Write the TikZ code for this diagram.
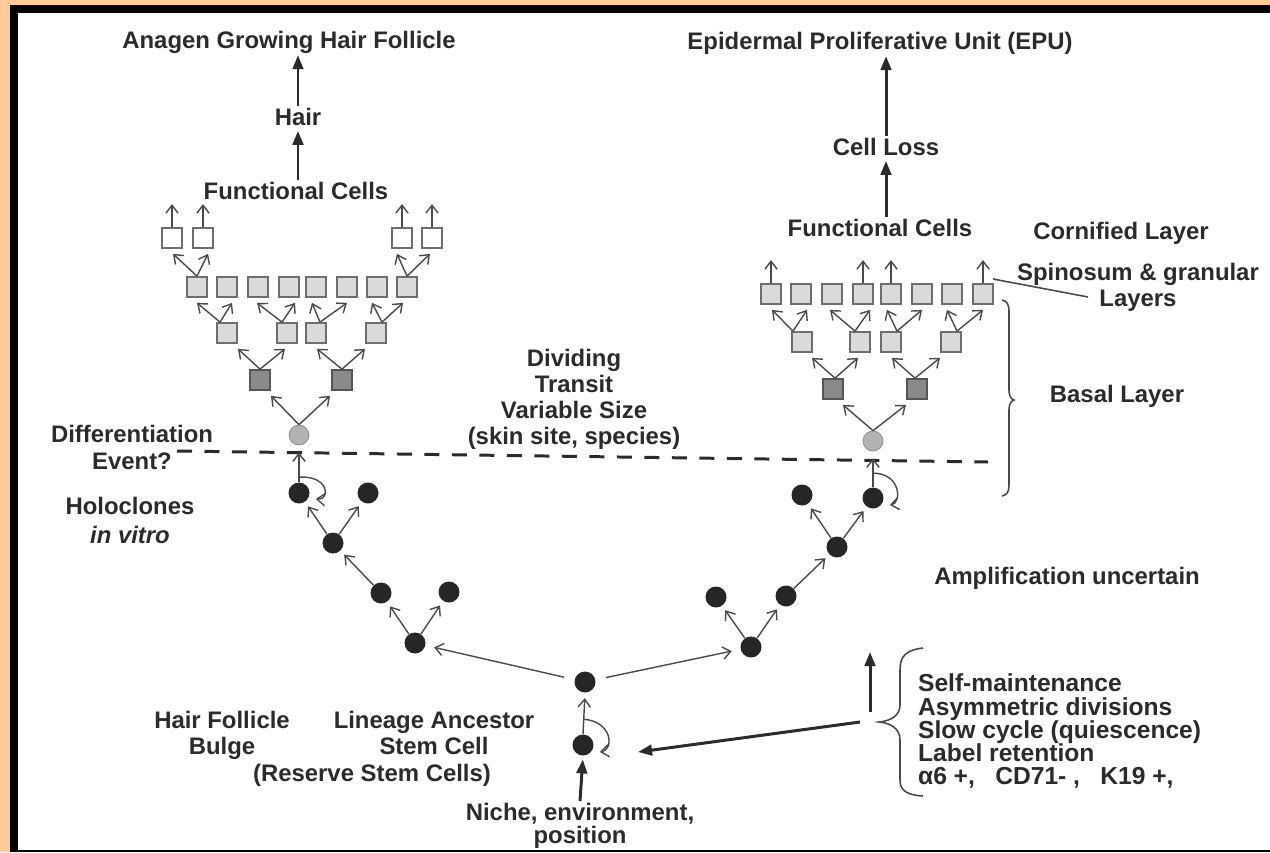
\documentclass[tikz,border=0pt]{standalone}
\usepackage{fontspec}
\setmainfont{Liberation Sans}
\usetikzlibrary{arrows.meta,calc}
\definecolor{peach}{HTML}{FFCA95}
\definecolor{txt}{HTML}{2B2B2B}
\definecolor{ln}{HTML}{4A4A4A}
\definecolor{sqb}{HTML}{6E6E6E}
\definecolor{sqf}{HTML}{DADADA}
\definecolor{sqdk}{HTML}{8A8A8A}
\definecolor{sqdb}{HTML}{555555}
\definecolor{cgf}{HTML}{B2B2B2}
\definecolor{cgb}{HTML}{8A8A8A}
\definecolor{cbf}{HTML}{262626}
\newcommand\vfork[6]{%
  \draw[thinarr] ($(#1.north)+(#4,0)$) -- ($(#2.south)+(#5,5)$);
  \draw[thinarr] ($(#1.north)+(#4,0)$) -- ($(#3.south)+(#6,5)$);}
\newcommand\uparr[1]{\draw[thinarr] (#1.north) -- ++(0,-23);}
\begin{document}
\begin{tikzpicture}[x=0.02cm,y=-0.02cm,
  sqw/.style={draw=sqb, fill=white, minimum size=0.4cm, inner sep=0pt, line width=1pt},
  sqg/.style={sqw, fill=sqf},
  sqdark/.style={sqw, fill=sqdk, draw=sqdb},
  cg/.style={circle, fill=cgf, draw=cgb, minimum size=0.4cm, inner sep=0pt},
  cb/.style={circle, fill=cbf, minimum size=0.42cm, inner sep=0pt},
  thinarr/.style={draw=ln, line width=0.8pt, -{Straight Barb[length=4.5pt,width=7pt]}},
  bigarr/.style={draw=txt, line width=1.7pt, -{Triangle[length=8pt,width=6pt]}},
  lbl/.style={text=txt, inner sep=1pt, align=center, font=\fontsize{13.6}{#1}\selectfont\bfseries},
  lbl/.default=15,
  brc/.style={draw=ln, line width=0.9pt},
  dashln/.style={draw=txt, line width=1.7pt, dash pattern=on 0.3cm off 0.25cm}]
\useasboundingbox (0,0) rectangle (1270,852);
\fill[peach] (0,0) rectangle (1270,852);
\fill[black] (10,5) rectangle (1270,852);
\fill[white] (18,13) rectangle (1270,850);

% ---------- top labels ----------
\node[lbl, anchor=base] (anagen) at (289,48) {Anagen Growing Hair Follicle};
\node[lbl, anchor=base] (hair) at (298,125) {Hair};
\node[lbl, anchor=base] (fcL) at (296,199) {Functional Cells};
\draw[bigarr, shorten >=2pt] (fcL.north -| hair) -- (hair.south);
\draw[bigarr] (hair.north) -- (anagen.south -| hair);

\node[lbl, anchor=base] (epu) at (880,49) {Epidermal Proliferative Unit (EPU)};
\node[lbl, anchor=base] (closs) at (886,155) {Cell Loss};
\node[lbl, anchor=base] (fcR) at (880,236) {Functional Cells};
\draw[bigarr, shorten >=2pt] (fcR.north -| closs) -- (closs.south);
\draw[bigarr] (closs.north) -- (epu.south -| closs);

\node[lbl, anchor=base] (corn) at (1121,239) {Cornified Layer};
\node[lbl=14.7, anchor=north] (spin) at (1138,261) {Spinosum \& granular\\Layers};
\node[lbl, anchor=base] (basal) at (1117,402) {Basal Layer};
\node[lbl=14.9, anchor=north] (divid) at (574,347) {Dividing\\Transit\\Variable Size\\(skin site, species)};
\node[lbl=15.3, anchor=north] (diff) at (132,423) {Differentiation\\Event?};
\node[lbl=16.4, anchor=north] (holo) at (130,495) {Holoclones\\{\itshape in vitro}};
\node[lbl, anchor=base] (ampl) at (1067,584) {Amplification uncertain};
\node[lbl=14.7, anchor=north] (hfb) at (222,709) {Hair Follicle\\Bulge};
\node[lbl, anchor=base] (reserve) at (372,781) {(Reserve Stem Cells)};
\node[lbl=14.7, anchor=north] (lin) at (434,709) {Lineage Ancestor\\Stem Cell};
\node[lbl=13, anchor=north] (niche) at (580,801) {Niche, environment,\\position};
\node[text=txt, inner sep=1pt, align=left, anchor=north west, font=\fontsize{14}{13.2}\selectfont\bfseries] (props) at (916,672)
  {Self-maintenance\\Asymmetric divisions\\Slow cycle (quiescence)\\Label retention\\α6 +,\hspace{0.55em} CD71- ,\hspace{0.55em} K19 +,};

% ---------- left tree ----------
\node[sqw] (L1a) at (172,238) {};
\node[sqw] (L1b) at (203,238) {};
\node[sqw] (L1c) at (402,238) {};
\node[sqw] (L1d) at (432,238) {};
\foreach \n/\x in {a/197,b/227,c/258,d/289,e/316,f/347,g/377,h/407}
  \node[sqg] (L2\n) at (\x,287) {};
\foreach \n/\x in {a/227,b/287,c/316,d/376}
  \node[sqg] (L3\n) at (\x,333) {};
\node[sqdark] (L4a) at (260,380) {};
\node[sqdark] (L4b) at (342,380) {};
\node[cg] (Lg) at (299,435) {};
\foreach \n in {L1a,L1b,L1c,L1d} {\uparr{\n}}
\vfork{L2a}{L1a}{L1b}{0}{1}{5}
\vfork{L2h}{L1c}{L1d}{0}{-5}{-2}
\vfork{L3a}{L2a}{L2b}{-7}{0}{5}
\vfork{L3b}{L2c}{L2d}{-5}{-1}{6}
\vfork{L3c}{L2e}{L2f}{4}{-4}{0}
\vfork{L3d}{L2g}{L2h}{6}{-5}{-4}
\vfork{L4a}{L3a}{L3b}{0}{11}{-2}
\vfork{L4b}{L3c}{L3d}{0}{1}{-11}
\vfork{Lg}{L4a}{L4b}{0}{11}{-12}

% ---------- right tree ----------
\foreach \n/\x in {a/771,b/801,c/832,d/863,e/891,f/922,g/952,h/983}
  \node[sqg] (R1\n) at (\x,294) {};
\foreach \n/\x in {a/802,b/860,c/891,d/951}
  \node[sqg] (R2\n) at (\x,342) {};
\node[sqdark] (R3a) at (833,389) {};
\node[sqdark] (R3b) at (917,389) {};
\node[cg] (Rg) at (873,441) {};
\foreach \n in {R1a,R1d,R1e,R1h} {\uparr{\n}}
\vfork{R2a}{R1a}{R1b}{-9}{1}{6}
\vfork{R2b}{R1c}{R1d}{-5}{-2}{7}
\vfork{R2c}{R1e}{R1f}{6}{-4}{0}
\vfork{R2d}{R1g}{R1h}{6}{-5}{0}
\vfork{R3a}{R2a}{R2b}{2}{10}{-2}
\vfork{R3b}{R2c}{R2d}{-2}{1}{-11}
\vfork{Rg}{R3a}{R3b}{0}{10}{-11}

% ---------- dashed line ----------
\coordinate (dl1) at (177,451);
\coordinate (dl2) at (988,462);
\draw[dashln] (dl1) -- (dl2);

% ---------- stem cells ----------
\node[cb] (B1) at (299,493) {};
\node[cb] (B2) at (368,493) {};
\node[cb] (B3) at (333,543) {};
\node[cb] (B4) at (381,593) {};
\node[cb] (B5) at (449,592) {};
\node[cb] (B6) at (415,643) {};
\node[cb] (C1) at (802,495) {};
\node[cb] (C2) at (873,498) {};
\node[cb] (C3) at (837,547) {};
\node[cb] (C4) at (716,597) {};
\node[cb] (C5) at (786,596) {};
\node[cb] (C6) at (751,647) {};
\node[cb] (S1) at (585,682) {};
\node[cb] (S0) at (583,745) {};

\begin{scope}[shorten >=3pt]
\draw[thinarr] (B3) -- (B1);
\draw[thinarr] (B3) -- (B2);
\draw[thinarr] (B4) -- (B3);
\draw[thinarr] (B6) -- (B4);
\draw[thinarr] (B6) -- (B5);
\draw[thinarr] (C6) -- (C4);
\draw[thinarr] (C6) -- (C5);
\draw[thinarr] (C5) -- (C3);
\draw[thinarr] (C3) -- (C1);
\draw[thinarr] (C3) -- (C2);
\end{scope}
\draw[thinarr, shorten <=6pt, shorten >=5pt] (S1) -- (B6);
\draw[thinarr, shorten <=6pt, shorten >=5pt] (S1) -- (C6);
\draw[thinarr, shorten >=4pt] (B1.north) -- (Lg.south);
\draw[thinarr, shorten >=4pt] (C2.north) -- (Rg.south);
\draw[thinarr, shorten >=3pt] (S0.north) -- (S1.south);
% self-renewal loops
\draw[thinarr] ($(B1.north)+(0,-5)$) .. controls +(30,-2) and +(15,1) .. ($(B1.east)+(6,6)$);
\draw[thinarr] ($(C2.north)+(0,-14)$) .. controls +(28,0) and +(12,-2) .. ($(C2.east)+(6,7)$);
\draw[thinarr] ($(S0.north)+(0,-15)$) .. controls +(30,2) and +(14,-2) .. ($(S0.east)+(6,7)$);

% niche arrow
\draw[bigarr, shorten >=2pt] (niche.north) -- (S0.south);

% ---------- right side: properties ----------
\coordinate (pstart) at (860,722);
\coordinate (ptip) at (638,752);
\draw[bigarr] (pstart) -- (ptip);
\coordinate (vbot) at (870,712);
\coordinate (vtop) at (870,652);
\draw[bigarr] (vbot) -- (vtop);
\draw[brc] (923,648) .. controls (906,650) and (900,656) .. (900,670) -- (900,705)
  .. controls (900,716) and (890,721) .. (879,722)
  .. controls (890,723) and (900,728) .. (900,740) -- (900,780)
  .. controls (900,790) and (906,795) .. (923,796);
% basal brace
\draw[brc] (1002,300) .. controls (1007,301) and (1009,304) .. (1009,312) -- (1009,390)
  .. controls (1009,396) and (1011,399) .. (1014,400)
  .. controls (1011,401) and (1009,404) .. (1009,410) -- (1009,485)
  .. controls (1009,492) and (1007,495) .. (1002,496);
% leader line to spinosum label
\coordinate (lead1) at (993,279);
\coordinate (lead2) at (1088,297);
\draw[brc] (lead1) -- (lead2);
\end{tikzpicture}
\end{document}
